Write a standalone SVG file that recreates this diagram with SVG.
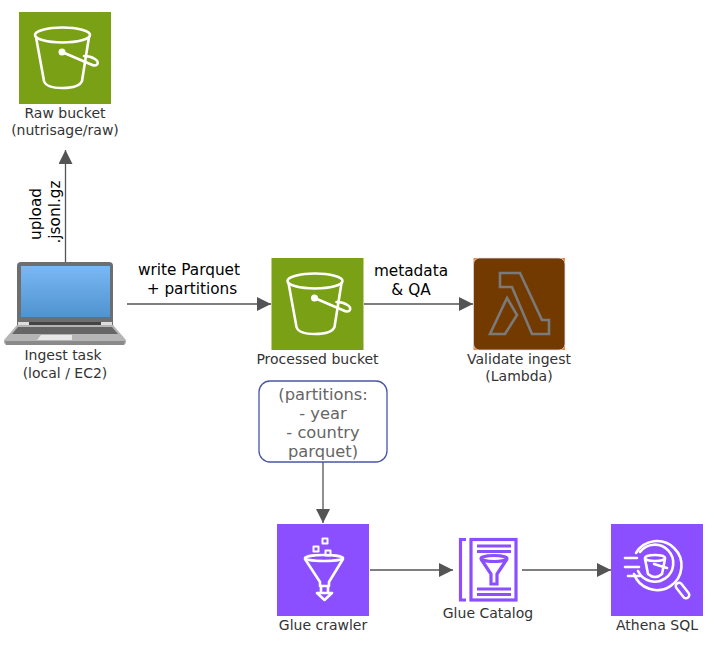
<svg xmlns="http://www.w3.org/2000/svg" width="718" height="653" viewBox="0 0 718 653">
<style>
text{font-family:"DejaVu Sans",Verdana,sans-serif;text-anchor:middle}
.lab{font-size:14px;fill:#333}
.edge{font-size:15.300px;fill:#000}
.box{font-size:16.300px;fill:#666}
.con{fill:none;stroke:#545454;stroke-width:1.3}
.ic{fill:none;stroke:#fff;stroke-width:2.600;stroke-linejoin:round;stroke-linecap:round}
.gl{fill:none;stroke:#8c4fff;stroke-width:3.200}
</style>
<defs>
<marker id="arr" markerUnits="userSpaceOnUse" markerWidth="15" markerHeight="14" refX="14" refY="7" orient="auto"><path d="M0 0L14 7L0 14Z" fill="#545454"/></marker>
<linearGradient id="scr" x1="0" y1="0" x2="0" y2="1"><stop offset="0" stop-color="#7ab8f5"/><stop offset="1" stop-color="#4f93cf"/></linearGradient>
<g id="bucket">
<ellipse cx="43.500" cy="23" rx="27.500" ry="7.500"/>
<path d="M17 25L25 69Q27 76 43.500 76Q60 76 63 69L70 25"/>
<path d="M43 40L71 52C79 56 81 50 76 47C73 45 69 44 65 44"/>
<circle cx="43" cy="40" r="2.200" fill="#fff"/>
</g>
</defs>
<g id="connectors">
<path class="con" d="M65.500 263V150" marker-end="url(#arr)"/>
<path class="con" d="M127 304H271" marker-end="url(#arr)"/>
<path class="con" d="M364 304H473" marker-end="url(#arr)"/>
<path class="con" d="M323 462V523" marker-end="url(#arr)"/>
<path class="con" d="M370 570H453" marker-end="url(#arr)"/>
<path class="con" d="M522 570H611" marker-end="url(#arr)"/>
<text class="edge" transform="translate(41 214) rotate(-90)">upload</text>
<text class="edge" transform="translate(60 212) rotate(-90)">.jsonl.gz</text>
<text class="edge" x="189" y="275">write Parquet</text>
<text class="edge" x="192" y="294">+ partitions</text>
<text class="edge" x="411" y="276">metadata</text>
<text class="edge" x="411" y="295">&amp; QA</text>
</g>
<g id="raw-bucket">
<rect x="19" y="12" width="92" height="92" fill="#7aa116"/>
<g class="ic" transform="translate(19 12)"><use href="#bucket"/></g>
<text class="lab" x="65" y="118">Raw bucket</text>
<text class="lab" x="65" y="135">(nutrisage/raw)</text>
</g>
<g id="ingest-task">
<path d="M17 266Q17 262 21 262H109Q113 262 113 266V325H17Z" fill="#6e6e6e"/>
<rect x="21" y="266" width="89" height="51" fill="url(#scr)"/>
<rect x="29" y="322" width="72" height="3" fill="#444"/>
<path d="M18 322H29V325H18ZM101 322H112V325H101Z" fill="#ddd"/>
<path d="M17 325H113L126 340Q127 345 122 345H8Q3 345 4 340Z" fill="#b5b5b5"/>
<path d="M18 327H112L118 334H12Z" fill="#666"/>
<path d="M41 335H72V340H37Z" fill="#e8e8e8"/>
<path d="M5 341H125L124 345H6Z" fill="#8a8a8a"/>
<text class="lab" x="63" y="360">Ingest task</text>
<text class="lab" x="65" y="378">(local / EC2)</text>
</g>
<g id="processed-bucket">
<rect x="271.500" y="258" width="92" height="92" fill="#7aa116"/>
<g class="ic" transform="translate(271.500 258)"><use href="#bucket"/></g>
<text class="lab" x="317.500" y="364">Processed bucket</text>
</g>
<g id="validate-ingest">
<rect x="473.500" y="258" width="91.500" height="92" fill="#f58536"/>
<rect x="473.500" y="258" width="91.500" height="92" rx="6" fill="#733a00" stroke="#dde" stroke-width="0.800"/>
<path d="M500 273H520L542 320H549V334H532L512 287H500ZM507 298L517 315L505 334H490Z" fill="none" stroke="#7a7a7a" stroke-width="2.600" stroke-linejoin="miter"/>
<text class="lab" x="519" y="364">Validate ingest</text>
<text class="lab" x="519" y="381">(Lambda)</text>
</g>
<g id="partitions">
<rect x="259" y="381" width="128" height="81" rx="11" fill="#fff" stroke="#4a55a8" stroke-width="1.300"/>
<text class="box" x="323" y="400">(partitions:</text>
<text class="box" x="323" y="419">- year</text>
<text class="box" x="323" y="438">- country</text>
<text class="box" x="323" y="457">parquet)</text>
</g>
<g id="glue-crawler">
<rect x="277" y="524" width="92" height="92" fill="#8c4fff"/>
<g class="ic">
<ellipse cx="324" cy="558" rx="19" ry="3"/>
<path d="M305 559L320 582V586H329V582L343 559"/>
<path d="M321 586V593M328 586V593M317 593L324.500 600L332 593Z"/>
<rect x="313.500" y="546.500" width="5" height="5" stroke-width="2"/>
<rect x="322.500" y="538.500" width="5" height="5" stroke-width="2"/>
<rect x="325.500" y="550.500" width="5" height="5" stroke-width="2"/>
</g>
<text class="lab" x="323" y="630">Glue crawler</text>
</g>
<g id="glue-catalog">
<path class="gl" d="M466 539.500H460.500V600H466"/>
<rect x="471" y="539.500" width="45" height="60.500" class="gl"/>
<path class="gl" d="M477 546H511M477 551.500H511M477 589H511M477 594.500H511"/>
<ellipse class="gl" cx="494" cy="558.500" rx="13" ry="3"/>
<path class="gl" d="M481 559L491 574V584H497V574L507 559"/>
<text class="lab" x="488" y="618">Glue Catalog</text>
</g>
<g id="athena-sql">
<rect x="611" y="524" width="92" height="92" fill="#8c4fff"/>
<g class="ic">
<path d="M636 553A24.500 24.500 0 1 1 634 574"/>
<path d="M640 552A18.500 18.500 0 1 1 638 571"/>
<path d="M677 584L683 591" stroke-width="2.600"/>
<path d="M679 586L686 595" stroke-width="9"/>
<path d="M679 586L686 595" stroke="#8c4fff" stroke-width="4"/>
<path d="M625 558H637M625 567H639M628 576H640"/>
<ellipse cx="655" cy="558" rx="10" ry="3"/>
<path d="M645 559L648 574Q655 580 662 574L665 559M654 564L667 568"/>
</g>
<text class="lab" x="657" y="630">Athena SQL</text>
</g>
</svg>
